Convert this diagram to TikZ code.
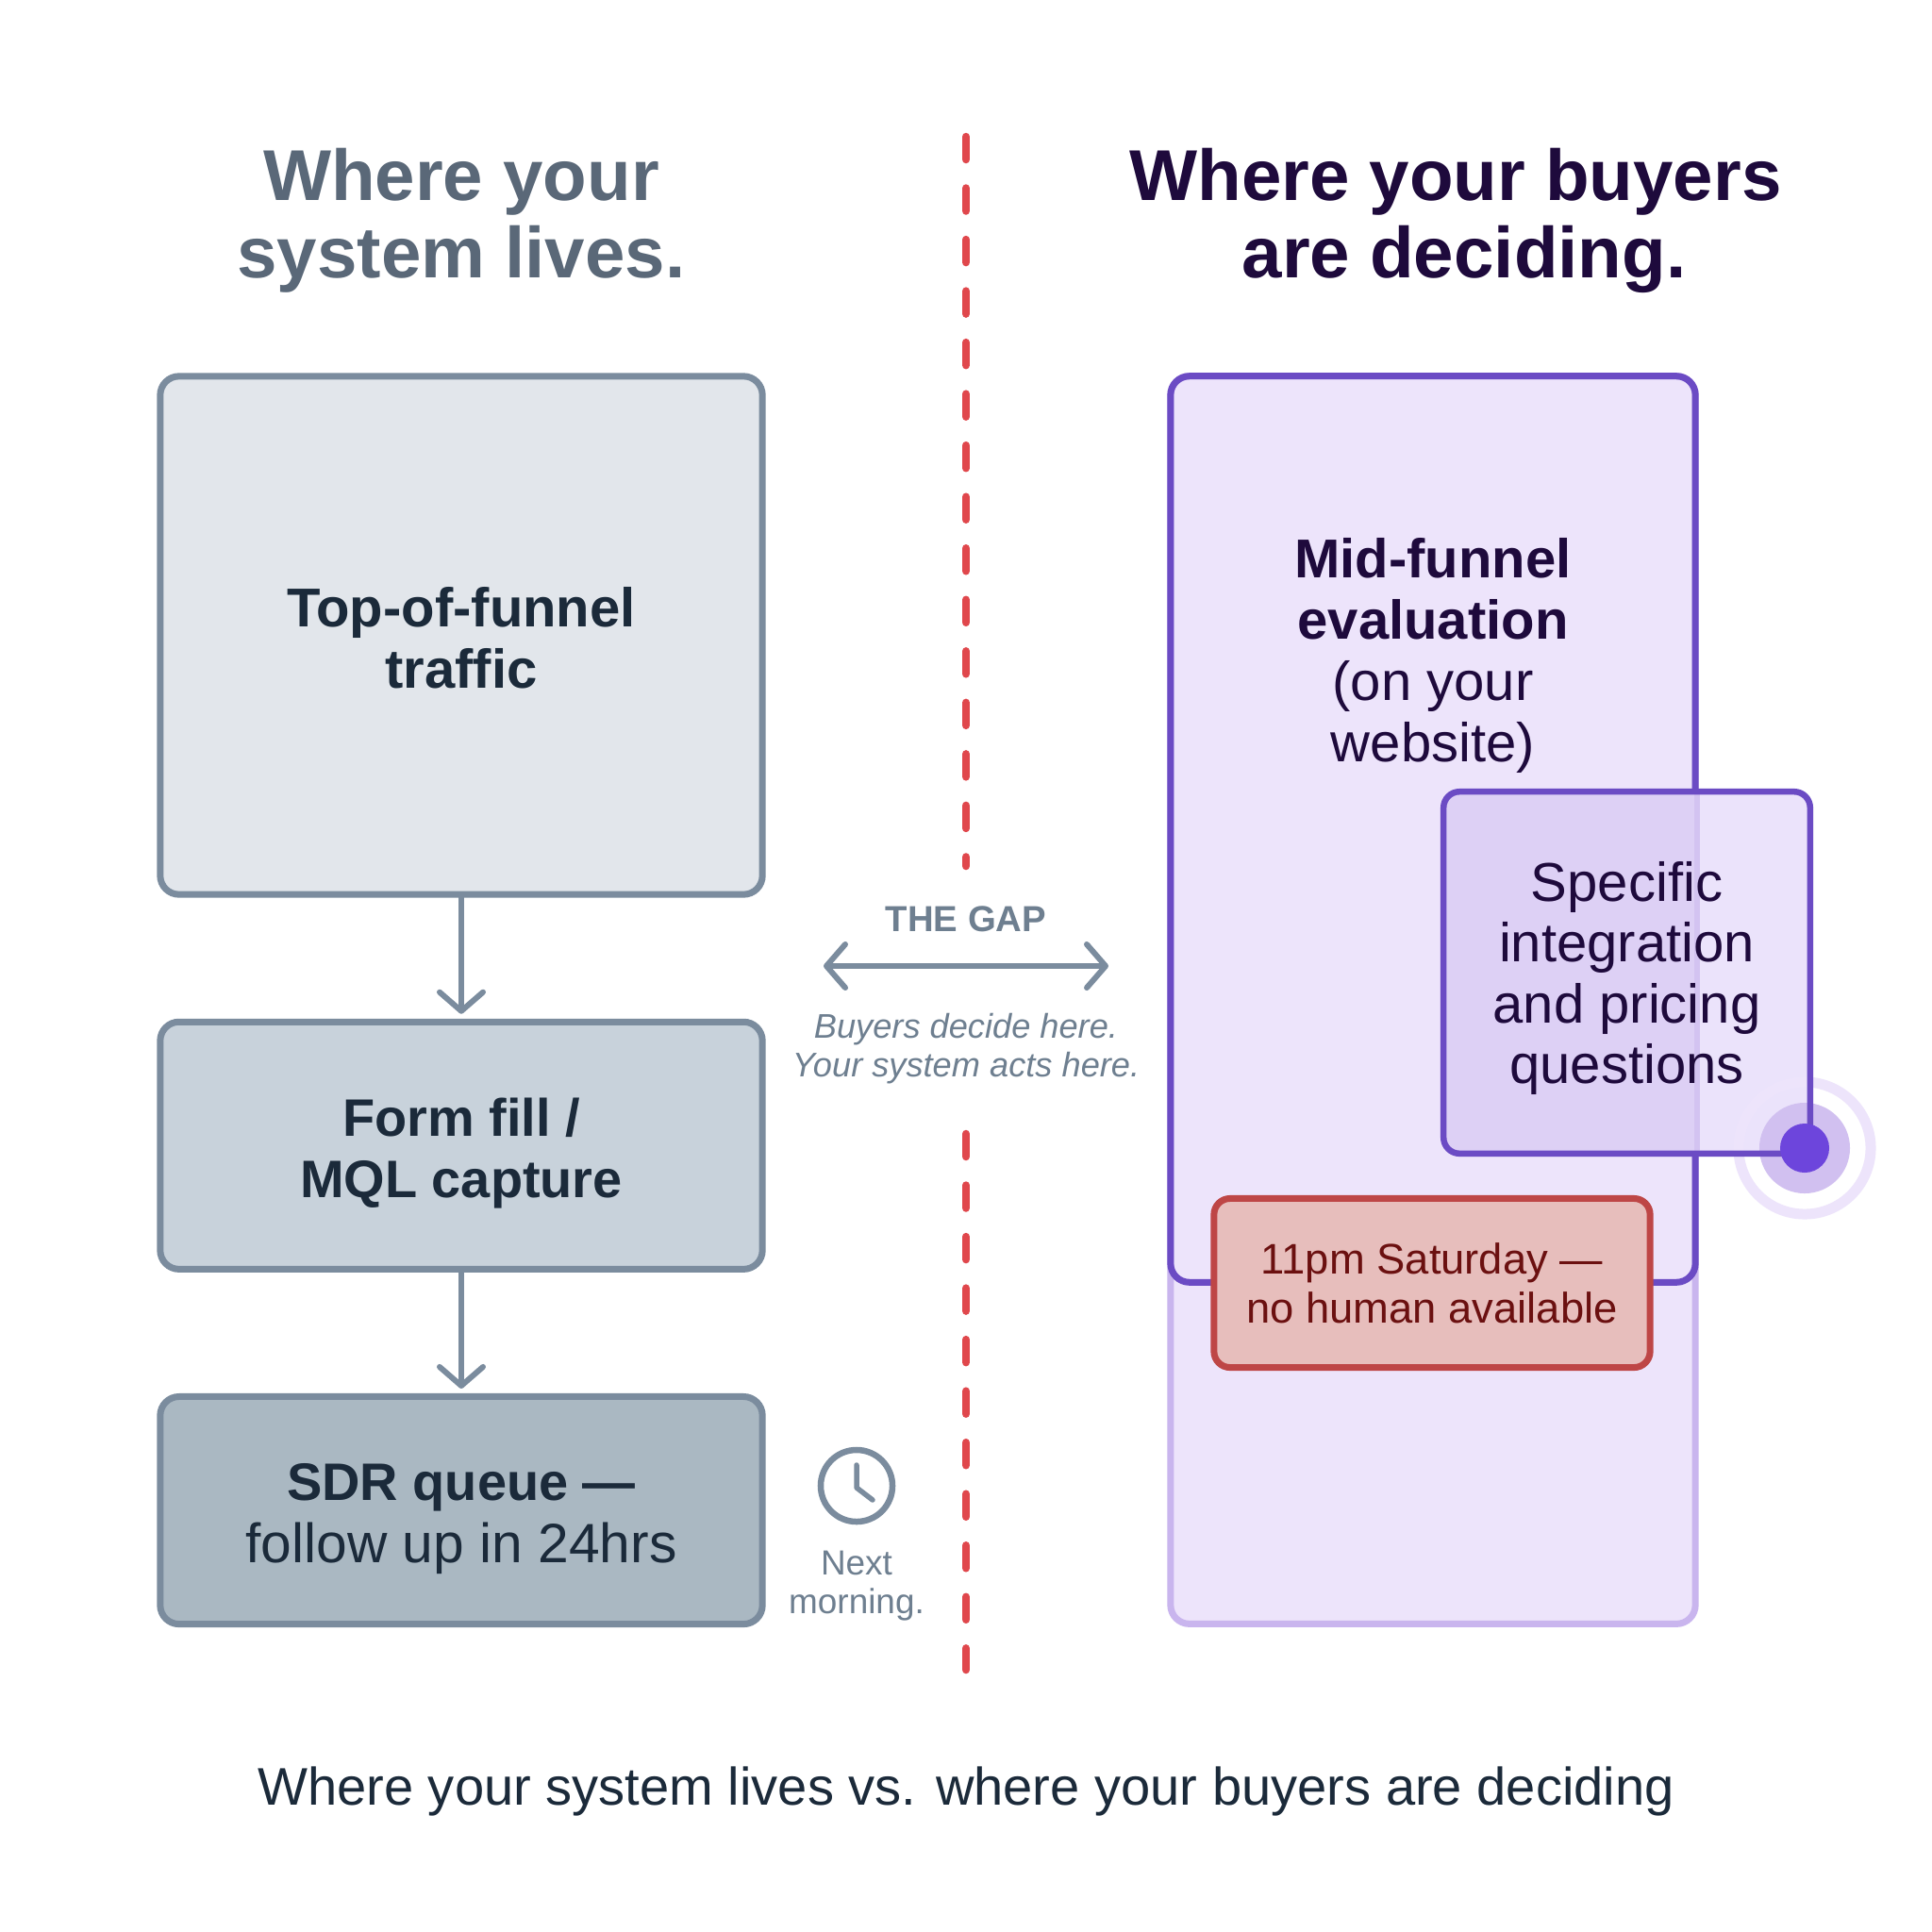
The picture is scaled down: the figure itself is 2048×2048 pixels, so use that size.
\documentclass[tikz,border=0pt]{standalone}
\usepackage{fontspec}
\setmainfont{Liberation Sans}
\usetikzlibrary{arrows.meta}
\definecolor{slateline}{HTML}{7B8C9E}
\definecolor{slatetext}{HTML}{1B2A3A}
\definecolor{slatehead}{HTML}{5A6878}
\definecolor{gaptext}{HTML}{6E7F90}
\definecolor{inkpurple}{HTML}{1E0A3C}
\definecolor{purpleline}{HTML}{6B4BC4}
\definecolor{purpledot}{HTML}{6D45DC}
\definecolor{purplepale}{HTML}{C9B5EE}
\definecolor{purplefill}{HTML}{EDE4FB}
\definecolor{specin}{HTML}{DDD0F5}
\definecolor{specout}{HTML}{EBE3FB}
\definecolor{gapred}{HTML}{E0474C}
\definecolor{topfill}{HTML}{E2E6EB}
\definecolor{formfill}{HTML}{C8D2DB}
\definecolor{sdrfill}{HTML}{AAB8C2}
\definecolor{satline}{HTML}{BE4646}
\definecolor{satfill}{HTML}{E7BEBC}
\definecolor{sattext}{HTML}{6B1010}
\tikzset{
  stagebox/.style={draw=slateline, line width=0.07cm, rounded corners=0.2cm, minimum width=6.38cm},
  stagetext/.style={text=slatetext, align=center, font=\fontsize{16.5}{18.5}\selectfont},
  headline/.style={align=center, font=\fontsize{21.7}{23.4}\selectfont\bfseries},
  flowarrow/.style={->, draw=slateline, line width=0.06cm, shorten >=0.05cm},
  smalltext/.style={text=gaptext, align=center, font=\fontsize{10.5}{11.6}\selectfont}
}
\newcommand{\boldline}[1]{{\fontsize{15.9}{18.5}\selectfont\bfseries #1}}
\begin{document}
\begin{tikzpicture}[x=0.01cm, y=-0.01cm, >={Straight Barb[round, length=0.2cm, width=0.46cm, line width=0.06cm]}, line cap=round]
\useasboundingbox (0,0) rectangle (2048,2048);
\fill[white] (0,0) rectangle (2048,2048);
% headings
\node[headline, text=slatehead] (headleft) at (489,234) {Where your\\system lives.};
\node[headline, text=inkpurple] (headright) at (1552,234) {Where your buyers\hspace*{0.18cm}\\are deciding.};
% divider
\coordinate (divtop) at (1024,145);
\coordinate (divmid) at (1024,918);
\coordinate (divlow) at (1024,1202);
\coordinate (divend) at (1024,1770);
\draw[gapred, line width=0.085cm, dash pattern=on 0.24cm off 0.305cm] (divtop) -- (divmid);
\draw[gapred, line width=0.085cm, dash pattern=on 0.24cm off 0.305cm] (divlow) -- (divend);
% left column
\node[stagebox, minimum height=5.49cm, fill=topfill] (top) at (489,673.5) {};
\node[stagebox, minimum height=2.62cm, fill=formfill, below of=top, node distance=5.405cm] (form) {};
\node[stagebox, minimum height=2.41cm, fill=sdrfill, below of=form, node distance=3.865cm] (sdr) {};
\node[stagetext, yshift=-0.03cm] (toptext) at (top) {\bfseries Top-of-funnel\\\bfseries traffic};
\node[stagetext, yshift=-0.08cm] (formtext) at (form) {\boldline{Form fill /}\\\boldline{MQL capture}};
\node[stagetext, yshift=-0.09cm, font=\fontsize{16.7}{18.5}\selectfont] (sdrtext) at (sdr) {\boldline{SDR queue ---}\\follow up in 24hrs};
\draw[flowarrow] (top) -- (form);
\draw[flowarrow] (form) -- (sdr);
% the gap
\node[font=\fontsize{10.9}{13}\selectfont\bfseries, text=gaptext] (gaplabel) at (1024,974) {THE GAP};
\coordinate (gapleft) at (873,1024);
\coordinate (gapright) at (1175,1024);
\draw[<->, draw=slateline, line width=0.06cm] (gapleft) -- (gapright);
\node[smalltext, font=\fontsize{10.3}{11.7}\selectfont\itshape] (gapnote) at (1024,1112) {Buyers decide here.\\Your system acts here.};
% clock
\node[circle, draw=slateline, line width=0.065cm, minimum size=0.76cm, inner sep=0pt] (clock) at (908,1575) {};
\draw[slateline, line width=0.055cm, line join=round] (908,1553) -- (908,1577) -- (925,1590);
\node[smalltext] (nextnote) at (908,1681) {Next\\morning.};
% right column
\node[draw=purplepale, line width=0.07cm, fill=purplefill, rounded corners=0.2cm, minimum width=5.56cm, minimum height=13.22cm] (late) at (1519,1060) {};
\node[draw=purpleline, line width=0.07cm, rounded corners=0.2cm, minimum width=5.56cm, minimum height=9.6cm] (eval) at (1519,879) {};
\node[text=inkpurple, align=center, font=\fontsize{16.5}{18.5}\selectfont] (evaltext) at (1519,695) {\bfseries Mid-funnel\\\bfseries evaluation\\(on your\\website)};
% specific questions
\node[fill=specout, rounded corners=0.17cm, minimum width=3.87cm, minimum height=3.82cm] (spec) at (1724.5,1031) {};
\fill[specin, rounded corners=0.17cm] (1799,840) -- (1531,840) -- (1531,1222) [sharp corners] -- (1799,1222) -- cycle;
\fill[purplepale!50!specin] (1796,840) rectangle (1802,1222);
\draw[purplefill, line width=0.11cm] (1913,1217) circle (0.7cm);
\fill[purplepale!85!white] (1913,1217) circle (0.48cm);
\draw[purpleline, line width=0.065cm, rounded corners=0.17cm] (spec.north west) rectangle (spec.south east);
\node[text=inkpurple, align=center, font=\fontsize{16.5}{18.3}\selectfont, yshift=-0.06cm] (spectext) at (spec.center) {Specific\\integration\\and pricing\\questions};
\fill[purpledot] (1913,1217) circle (0.26cm);
% saturday note
\node[draw=satline, fill=satfill, line width=0.07cm, rounded corners=0.17cm, minimum width=4.62cm, minimum height=1.79cm, text=sattext, align=center, font=\fontsize{12.9}{14.9}\selectfont] (sat) at (1518,1360) {11pm Saturday ---\\no human available};
% caption
\node[text=slatetext, font=\fontsize{15.95}{18}\selectfont] (caption) at (1024,1899) {Where your system lives vs. where your buyers are deciding};
\end{tikzpicture}
\end{document}
